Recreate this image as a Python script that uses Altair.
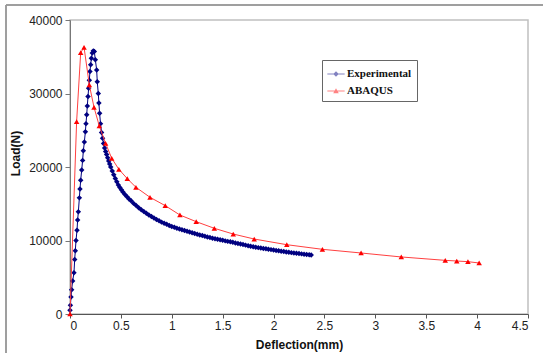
import altair as alt
import pandas as pd

# ---------------- data ----------------
exp_x = [0.000, 0.004, 0.010, 0.016, 0.026, 0.039, 0.046, 0.052, 0.059, 0.069,
         0.075, 0.082, 0.092, 0.098, 0.105, 0.115, 0.124, 0.131, 0.141, 0.151,
         0.157, 0.164, 0.170, 0.177, 0.183, 0.190, 0.196, 0.203, 0.210, 0.219,
         0.229, 0.239, 0.249, 0.262, 0.268, 0.278, 0.284, 0.291,
         0.300, 0.310, 0.320, 0.330, 0.340, 0.350, 0.360, 0.370, 0.380, 0.390,
         0.400, 0.415, 0.430, 0.445, 0.460, 0.475, 0.490, 0.505, 0.520, 0.540,
         0.560, 0.580, 0.600, 0.625, 0.650, 0.675, 0.700, 0.725, 0.750, 0.775,
         0.800, 0.825, 0.850, 0.875, 0.900, 0.925, 0.950, 0.975,
         1.000, 1.025, 1.050, 1.075, 1.100, 1.125, 1.150, 1.175, 1.200, 1.225,
         1.250, 1.275, 1.300, 1.325, 1.350, 1.375, 1.400, 1.425, 1.450, 1.475,
         1.500, 1.525, 1.550, 1.575, 1.600, 1.625, 1.650, 1.675, 1.700, 1.725,
         1.750, 1.775, 1.800, 1.825, 1.850, 1.875, 1.900, 1.925, 1.950, 1.975,
         2.000, 2.025, 2.050, 2.075, 2.100, 2.125, 2.150, 2.175, 2.200, 2.225,
         2.250, 2.275, 2.300, 2.325, 2.350, 2.370]
exp_y = [500, 1200, 2300, 3300, 4500, 5600, 7400, 8600, 10000, 11400,
         12800, 13900, 15800, 17000, 18200, 19600, 20900, 22200, 23400, 24800,
         25900, 27100, 28300, 29600, 30700, 31800, 33000, 33900, 34800, 35500,
         35800, 35700, 34600, 33200, 31600, 30000, 28700, 27300,
         25900, 24700, 23900, 23200, 22600, 22100, 21700, 21250, 20800, 20400,
         20000, 19450, 18950, 18450, 18000, 17550, 17200, 16900, 16600, 16250,
         15950, 15650, 15400, 15050, 14750, 14450, 14180, 13950, 13700, 13480,
         13250, 13050, 12850, 12680, 12500, 12350, 12200, 12050,
         11900, 11790, 11680, 11570, 11470, 11360, 11260, 11150, 11050, 10950,
         10860, 10760, 10670, 10580, 10490, 10400, 10300, 10230, 10160, 10090,
         10020, 9950, 9880, 9820, 9750, 9670, 9600, 9520, 9450, 9370,
         9300, 9220, 9150, 9090, 9030, 8980, 8920, 8870, 8810, 8760,
         8700, 8650, 8600, 8550, 8500, 8450, 8400, 8350, 8300, 8260,
         8220, 8180, 8140, 8100, 8060, 8030]

aba_x = [0.000, 0.065, 0.105, 0.138, 0.190, 0.236, 0.288, 0.350, 0.410, 0.480,
         0.563, 0.648, 0.786, 0.936, 1.080, 1.240, 1.418, 1.604, 1.810, 2.130,
         2.480, 2.860, 3.255, 3.687, 3.800, 3.910, 4.020]
aba_y = [0, 26160, 35550, 36290, 31160, 28120, 25580, 23220, 21180, 19690,
         18410, 17240, 15880, 14740, 13470, 12560, 11660, 10880, 10200, 9430,
         8800, 8300, 7760, 7300, 7210, 7120, 6940]

series_names = ["Experimental", "ABAQUS"]
series_colors = ["#000080", "#ff0000"]
x_ticks = [0, 0.5, 1, 1.5, 2, 2.5, 3, 3.5, 4, 4.5]
y_ticks = [0, 5000, 10000, 15000, 20000, 25000, 30000, 35000, 40000]

exp_df = pd.DataFrame({"x": exp_x, "y": exp_y, "series": "Experimental"})
aba_df = pd.DataFrame({"x": aba_x, "y": aba_y, "series": "ABAQUS"})
legend_df = pd.DataFrame({"series": series_names, "hide": [0, 0]})

# legend symbols: short line with marker
legend_shapes = [
    "M-1,-0.06H1V0.06H-1Z M0,-0.32L0.32,0L0,0.32L-0.32,0Z",
    "M-1,-0.06H1V0.06H-1Z M-0.32,0.26L0,-0.32L0.32,0.26Z",
]

FONT = "Liberation Sans"

x_enc = alt.X(
    "x:Q",
    scale=alt.Scale(domain=[0, 4.5], nice=False, zero=True),
    axis=alt.Axis(
        values=x_ticks, format=".1~f", title="Deflection(mm)", grid=False,
        tickSize=4, labelPadding=2, labelFont=FONT, labelFontSize=12,
        labelColor="#222", titleFont=FONT, titleFontSize=12,
        titleFontWeight="bold", titleColor="#111", titleBaseline="middle",
        titleY=30, domainColor="#555", tickColor="#555",
    ),
)
y_enc = alt.Y(
    "y:Q",
    scale=alt.Scale(domain=[0, 40000], nice=False),
    axis=alt.Axis(
        values=y_ticks, format="d", title="Load(N)", grid=False,
        tickSize=5, labelPadding=3, labelFont=FONT, labelFontSize=12,
        labelColor="#222", titleFont=FONT, titleFontSize=12,
        titleFontWeight="bold", titleColor="#111", titleBaseline="middle",
        titleX=-55, titleY=133, domainColor="#777", tickColor="#777",
    ),
)

exp_line = alt.Chart(exp_df).mark_line(color="#000080", strokeWidth=1).encode(
    x=x_enc, y=y_enc, order="x:Q")
exp_pts = alt.Chart(exp_df).mark_point(
    shape="diamond", filled=True, color="#000080", size=30, opacity=1
).encode(x="x:Q", y="y:Q")

aba_line = alt.Chart(aba_df).mark_line(color="#ff4040", strokeWidth=1).encode(
    x="x:Q", y="y:Q", order="x:Q")
aba_pts = alt.Chart(aba_df).mark_point(
    shape="triangle-up", filled=True, color="#ff0000", size=30, opacity=1
).encode(x="x:Q", y="y:Q")

legend_layer = alt.Chart(legend_df).mark_point(filled=True).encode(
    color=alt.Color(
        "series:N",
        scale=alt.Scale(domain=series_names, range=series_colors),
        legend=alt.Legend(
            title=None, orient="none", legendX=252, legendY=40,
            labelFont="Liberation Serif", labelFontWeight="bold",
            labelFontSize=11, labelColor="#111", symbolSize=300,
            symbolOpacity=1, symbolStrokeWidth=0, padding=5, rowPadding=3,
            strokeColor="#666", fillColor="white", labelOffset=2,
        ),
    ),
    shape=alt.Shape(
        "series:N",
        scale=alt.Scale(domain=series_names, range=legend_shapes),
    ),
    opacity=alt.Opacity(
        "hide:Q", scale=alt.Scale(domain=[0, 1], range=[0, 0]), legend=None),
)

frame_top = alt.Chart(legend_df).mark_rule(color="#999", strokeWidth=1.5).encode(
    x=alt.value(-64), x2=alt.value(480), y=alt.value(-15))
frame_left = alt.Chart(legend_df).mark_rule(color="#999", strokeWidth=1.5).encode(
    x=alt.value(-64), y=alt.value(-15), y2=alt.value(340))

chart = alt.layer(
    frame_top, frame_left, exp_line, exp_pts, aba_line, aba_pts, legend_layer
).properties(
    width=458, height=294,
    autosize=alt.AutoSizeParams(type="none"),
    padding={"left": 70, "top": 20, "right": 15, "bottom": 39},
    background="white",
).configure_view(
    stroke="#c0c0c0", strokeWidth=1.5
)

chart.save("out.html", embed_options={"renderer": "svg", "actions": False})
